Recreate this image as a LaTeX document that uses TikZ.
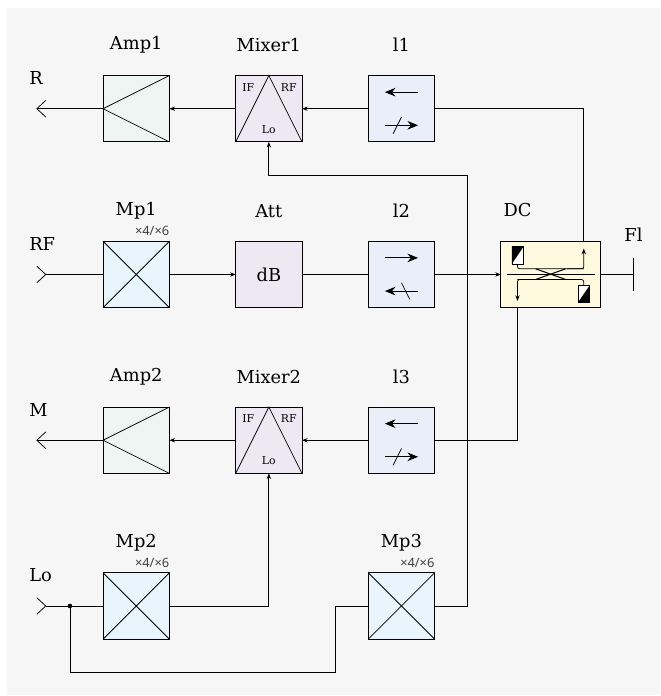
\documentclass[tikz,border=0pt]{standalone}
\usepackage{fontspec}
\setmainfont{DejaVu Serif}
\newfontfamily\multfont{Noto Sans}
\usetikzlibrary{arrows.meta}
\definecolor{bgcol}{HTML}{F6F6F6}
\definecolor{ampcol}{HTML}{EEF5F3}
\definecolor{mixcol}{HTML}{EDE8F3}
\definecolor{isocol}{HTML}{E9EEF9}
\definecolor{mpcol}{HTML}{E9F5FD}
\definecolor{dccol}{HTML}{FFF9E0}
\tikzset{
    conn/.style={line width=0.65pt},
    arr/.style={conn, -{Stealth[length=1.7mm,width=1.3mm]}},
    blockbox/.style={draw, line width=0.75pt, minimum size=2cm, inner sep=0pt, outer sep=0pt},
    isoarrow/.style={line width=0.75pt, -{Stealth[length=3.2mm,width=2.6mm]}},
    coupler/.style={line width=0.65pt},
    title/.style={font=\fontsize{15.3}{17}\selectfont},
    small/.style={font=\fontsize{9.3}{10}\selectfont},
    mult/.style={font=\fontsize{11}{12}\multfont, anchor=east, text=black!75}
}
\begin{document}
\begin{tikzpicture}
    \useasboundingbox (-4.11,-2.715) rectangle (15.8,18.28);
    \fill[bgcol] (-3.9,-2.685) rectangle (15.8,18.04);

    % amplifiers
    \foreach \name/\y/\txt in {amp1/15/Amp1, amp2/5/Amp2}{
        \node[blockbox, fill=ampcol] (\name) at (0,\y) {};
        \draw[conn] (\name.north east) -- (\name.west) -- (\name.south east);
        \node[title] (\name t) at (0,\y+1.92) {\txt};
    }
    % mixers
    \foreach \name/\y/\txt in {mixer1/15/Mixer1, mixer2/5/Mixer2}{
        \node[blockbox, fill=mixcol] (\name) at (4,\y) {};
        \draw[conn] (\name.south west) -- (\name.north) -- (\name.south east);
        \node[small] (\name if) at (3.38,\y+0.65) {IF};
        \node[small] (\name rf) at (4.6,\y+0.65) {RF};
        \node[small] (\name lo) at (4,\y-0.62) {Lo};
        \node[title] (\name t) at (4,\y+1.92) {\txt};
    }
    % multipliers
    \foreach \name/\x/\y/\txt in {mp1/0/10/Mp1, mp2/0/0/Mp2, mp3/8/0/Mp3}{
        \node[blockbox, fill=mpcol] (\name) at (\x,\y) {};
        \draw[conn] (\name.north east) -- (\name.south west)
        (\name.north west) -- (\name.south east);
        \node[title] (\name t) at (\x,\y+1.92) {\txt};
        \node[mult, inner sep=0pt] (\name m) at (\x+1,\y+1.3) {×4/×6};
    }
    % isolators
    \foreach \name/\y/\dir/\txt in {i1/15/-1/l1, i2/10/1/l2, i3/5/-1/l3}{
        \node[blockbox, fill=isocol] (\name) at (8,\y) {};
        \draw[isoarrow] ({8-\dir*0.5},\y+0.5) -- ({8+\dir*0.5},\y+0.5);
        \draw[isoarrow] ({8+\dir*0.5},\y-0.5) -- ({8-\dir*0.5},\y-0.5);
        \draw[conn] (8,\y-0.25) -- ({8+\dir*0.25},\y-0.75);
        \node[title] (\name t) at (8,\y+1.92) {\txt};
    }
    % attenuator
    \node[blockbox, fill=mixcol, title] (att) at (4,10) {dB};
    \node[title] (att t) at (4,11.92) {Att};

    % directional coupler
    \node[blockbox, fill=dccol, minimum width=3cm] (dc) at (12.5,10) {};
    \node[title] (dc t) at (11.5,11.93) {DC};
    \draw[conn] (11.17,10) -- (13.83,10);
    \draw[coupler, rounded corners=2pt] (11.5,10.5) -- (11.5,10.17) -- (13.5,10.17);
    \draw[coupler, rounded corners=2pt, -{Stealth[length=1.7mm,width=1.3mm]}] (13,10.17) -- (13.5,10.17) -- (13.5,10.78);
    \draw[coupler, rounded corners=2pt] (13.5,9.5) -- (13.5,9.85) -- (11.5,9.85);
    \draw[coupler, rounded corners=2pt, -{Stealth[length=1.7mm,width=1.3mm]}] (12,9.85) -- (11.5,9.85) -- (11.5,9.2);
    \draw[coupler, line width=0.9pt] (12.05,10.17) -- (12.95,9.85) (12.05,9.85) -- (12.95,10.17);
    \draw[fill=white, line width=0.5pt] (11.33,10.32) rectangle (11.69,10.85);
    \fill (11.33,10.85) -- (11.69,10.85) -- (11.33,10.32) -- cycle;
    \draw[fill=white, line width=0.5pt] (13.32,9.15) rectangle (13.68,9.67);
    \fill (13.68,9.15) -- (13.68,9.67) -- (13.32,9.15) -- cycle;

    % ports
    \coordinate (rout) at (-3,15);
    \coordinate (mout) at (-3,5);
    \coordinate (rfin) at (-2.73,10);
    \coordinate (loin) at (-2.73,0);
    \coordinate (lojunc) at (-2,0);
    \coordinate (flend) at (15,10);
    \coordinate (dcup) at (13.5,11);
    \coordinate (dcdown) at (11.5,9);
    \draw[conn] (-2.73,15.25) -- (rout) -- (-2.73,14.75);
    \draw[conn] (-2.73,5.25) -- (mout) -- (-2.73,4.75);
    \draw[conn] (-3,10.25) -- (rfin) -- (-3,9.75);
    \draw[conn] (-3,0.25) -- (loin) -- (-3,-0.25);
    \draw[conn] (15,10.5) -- (flend) -- (15,9.5);
    \node[title, anchor=west] (rlabel) at (-3.35,15.92) {R};
    \node[title, anchor=west] (rflabel) at (-3.35,10.92) {RF};
    \node[title, anchor=west] (mlabel) at (-3.35,5.92) {M};
    \node[title, anchor=west] (lolabel) at (-3.35,0.92) {Lo};
    \node[title] (fllabel) at (15,11.2) {Fl};

    % connections
    \draw[conn] (amp1.west) -- (rout);
    \draw[conn] (amp2.west) -- (mout);
    \draw[arr] (mixer1.west) -- (amp1.east);
    \draw[arr] (mixer2.west) -- (amp2.east);
    \draw[arr] (i1.west) -- (mixer1.east);
    \draw[arr] (i3.west) -- (mixer2.east);
    \draw[conn] (rfin) -- (mp1.west);
    \draw[arr] (mp1.east) -- (att.west);
    \draw[conn] (att.east) -- (i2.west);
    \draw[arr] (i2.east) -- (dc.west);
    \draw[conn] (dc.east) -- (flend);
    \draw[conn] (i1.east) -| (dcup);
    \draw[conn] (dcdown) |- (i3.east);
    \draw[conn] (loin) -- (mp2.west);
    \draw[arr] (mp2.east) -| (mixer2.south);
    \draw[conn] (lojunc) |- (6,-2) |- (mp3.west);
    \draw[arr] (mp3.east) -| (10,13) -| (mixer1.south);
    \fill (lojunc) circle (0.07);
\end{tikzpicture}
\end{document}
